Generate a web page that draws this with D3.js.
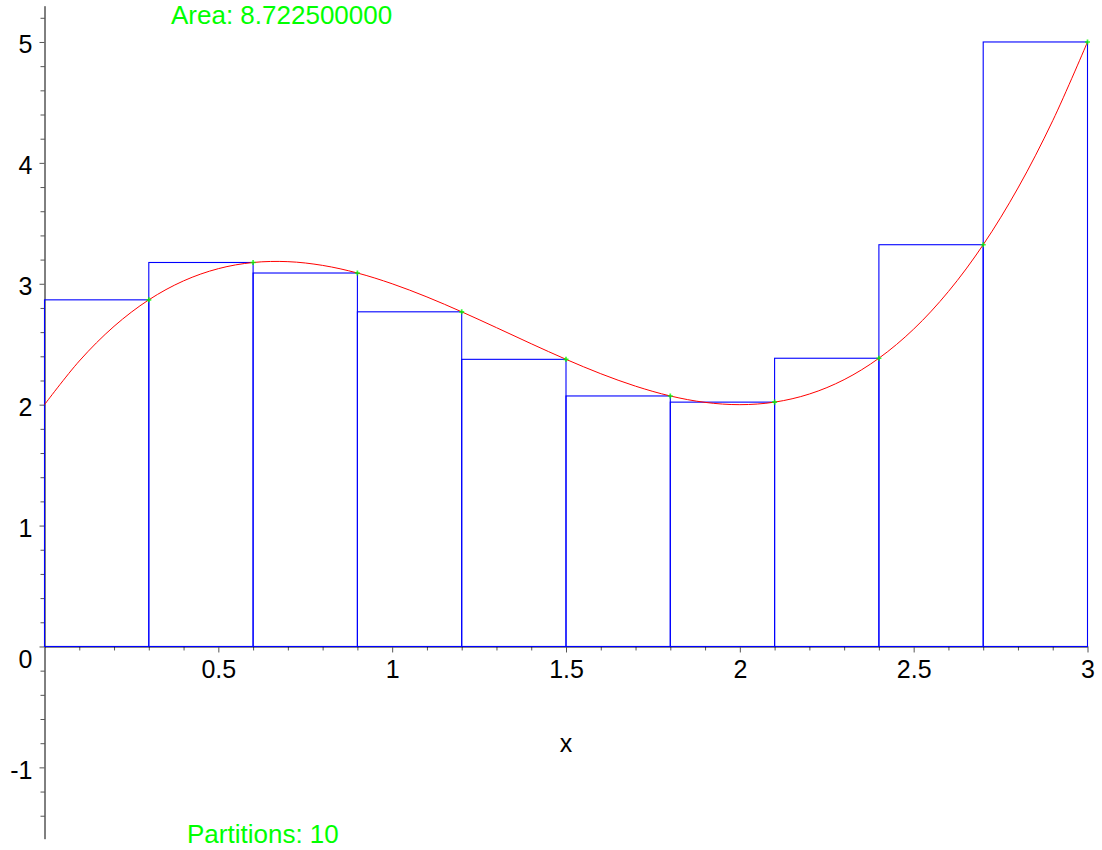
<!DOCTYPE html>
<html>
<head>
<meta charset="utf-8">
<script src="https://cdn.jsdelivr.net/npm/d3@7"></script>
<style>
  body { margin: 0; background: #fff; }
  svg { display: block; font-family: "Liberation Sans", Arial, sans-serif; }
</style>
</head>
<body>
<div class="chart"></div>
<script>
// right endpoints of the 10 partitions and the sampled heights there
var partitionX = [0.3, 0.6, 0.9, 1.2, 1.5, 1.8, 2.1, 2.4, 2.7, 3.0];
var partitionH = [2.867, 3.176, 3.089, 2.768, 2.375, 2.072, 2.021, 2.384, 3.323, 5.0];
var barWidth = 0.3;

// the curve, read at steps of 0.1
var curveX = [0, 0.1, 0.2, 0.3, 0.4, 0.5, 0.6, 0.7, 0.8, 0.9, 1.0, 1.1, 1.2, 1.3, 1.4, 1.5,
              1.6, 1.7, 1.8, 1.9, 2.0, 2.1, 2.2, 2.3, 2.4, 2.5, 2.6, 2.7, 2.8, 2.9, 3.0];
var curveY = [2, 2.361, 2.648, 2.867, 3.024, 3.125, 3.176, 3.183, 3.152, 3.089, 3.0, 2.891,
              2.768, 2.637, 2.504, 2.375, 2.256, 2.153, 2.072, 2.019, 2.0, 2.021, 2.088,
              2.207, 2.384, 2.625, 2.936, 3.323, 3.792, 4.349, 5.0];

var xMajor = [0.5, 1, 1.5, 2, 2.5, 3];
var yMajor = [-1, 0, 1, 2, 3, 4, 5];

var areaLabel = "Area: 8.722500000";
var partLabel = "Partitions: 10";

var svgWidth = 1102;
var svgHeight = 850;

var svg = d3.select(".chart")
  .append("svg")
  .attr("width", svgWidth)
  .attr("height", svgHeight);

var x = d3.scaleLinear().domain([0, 3]).range([44.5, 1087.5]);
var y = d3.scaleLinear().domain([-1.59, 5.30]).range([838.7, 5.7]);

// minor ticks
var xMinor = d3.range(1, 31).map(d => d / 10).filter(d => Math.abs(d * 2 - Math.round(d * 2)) > 1e-6);
var yMinor = d3.range(-7, 27).map(d => d / 5).filter(d => Math.abs(d - Math.round(d)) > 1e-6);

svg.append("g")
  .attr("transform", `translate(0,${y(0)})`)
  .call(d3.axisBottom(x).tickValues(xMinor).tickSize(4).tickSizeOuter(0).tickFormat(""))
  .call(g => g.select(".domain").remove())
  .call(g => g.selectAll("line").attr("stroke", "#555"));

svg.append("g")
  .attr("transform", `translate(${x(0)},0)`)
  .call(d3.axisLeft(y).tickValues(yMinor).tickSize(4).tickSizeOuter(0).tickFormat(""))
  .call(g => g.select(".domain").remove())
  .call(g => g.selectAll("line").attr("stroke", "#555"));

// x axis
var xAxis = svg.append("g")
  .attr("transform", `translate(0,${y(0)})`)
  .call(d3.axisBottom(x).tickValues(xMajor).tickSize(6).tickSizeOuter(0).tickPadding(8).tickFormat(d => String(d)));
xAxis.select(".domain").attr("stroke", "#000");
xAxis.selectAll("line").attr("stroke", "#555");
xAxis.selectAll("text").attr("font-size", 25).attr("fill", "#000")
  .attr("font-family", "Liberation Sans, Arial, sans-serif");

// y axis
var yAxis = svg.append("g")
  .attr("transform", `translate(${x(0)},0)`)
  .call(d3.axisLeft(y).tickValues(yMajor).tickSize(5).tickSizeOuter(0).tickPadding(7).tickFormat(d => String(d)));
yAxis.select(".domain").attr("stroke", "#000");
yAxis.selectAll("line").attr("stroke", "#555");
yAxis.selectAll("text").attr("font-size", 25).attr("fill", "#000")
  .attr("font-family", "Liberation Sans, Arial, sans-serif")
  .attr("dy", d => d === 0 ? "0.86em" : "0.44em");

// rectangles (right endpoint sums)
svg.append("g").selectAll("rect")
  .data(partitionX)
  .enter()
  .append("rect")
  .attr("x", d => x(d - barWidth))
  .attr("y", (d, i) => y(partitionH[i]))
  .attr("width", d => x(d) - x(d - barWidth))
  .attr("height", (d, i) => y(0) - y(partitionH[i]))
  .attr("fill", "none")
  .attr("stroke", "#0000ff")
  .attr("stroke-width", 1.1);

// curve
var line = d3.line()
  .x((d, i) => x(curveX[i]))
  .y(d => y(d))
  .curve(d3.curveCatmullRom);

svg.append("path")
  .datum(curveY)
  .attr("d", line)
  .attr("fill", "none")
  .attr("stroke", "#ff0000")
  .attr("stroke-width", 1);

// sample points
svg.append("g").selectAll("path")
  .data(partitionX)
  .enter()
  .append("path")
  .attr("transform", (d, i) => `translate(${x(d)},${y(partitionH[i])})`)
  .attr("d", d3.symbol(d3.symbolCross, 14))
  .attr("fill", "#00ff00")
  .attr("opacity", 0.8);

// labels
svg.append("text")
  .attr("x", 171)
  .attr("y", 24)
  .attr("font-size", 26)
  .attr("fill", "#00ff00")
  .text(areaLabel);

svg.append("text")
  .attr("x", 187)
  .attr("y", 843)
  .attr("font-size", 26)
  .attr("fill", "#00ff00")
  .text(partLabel);

svg.append("text")
  .attr("x", 566)
  .attr("y", 752)
  .attr("text-anchor", "middle")
  .attr("font-size", 25)
  .attr("fill", "#000")
  .text("x");
</script>
</body>
</html>
